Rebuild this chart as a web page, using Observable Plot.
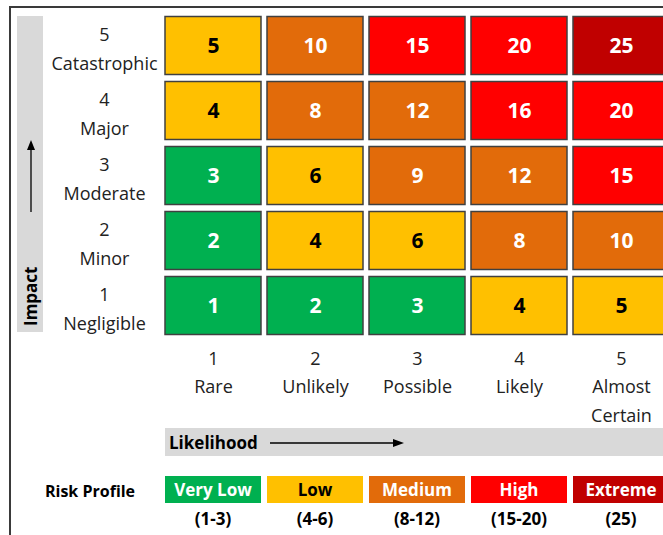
<!DOCTYPE html>
<html><head><meta charset="utf-8">
<script src="https://cdn.jsdelivr.net/npm/d3@7"></script>
<script src="https://cdn.jsdelivr.net/npm/@observablehq/plot@0.6"></script>
<style>
html,body{margin:0;padding:0;background:#fff;overflow:hidden}
#wrap{position:relative;width:663px;height:535px;overflow:hidden;font-family:"Open Sans",sans-serif;color:#1a1a1a}
#frame{position:absolute;left:9px;top:6px;width:700px;height:600px;border-top:2px solid #3a3a3a;border-left:2px solid #3a3a3a;box-sizing:border-box}
#wrap svg.plot{position:absolute;left:0;top:0}
.ov{position:absolute;box-sizing:border-box}
.band{background:#D9D9D9}
.lbox{display:flex;align-items:center;justify-content:center;font-weight:bold;font-size:17px}
.lrange{text-align:center;font-weight:bold;font-size:17px}
</style></head><body>
<div id="wrap"><div id="frame"></div></div>
<script>
// ---- data ----
const likelihood = [1, 2, 3, 4, 5];
const likelihoodNames = ["Rare", "Unlikely", "Possible", "Likely", "Almost\nCertain"];
const impact = [5, 4, 3, 2, 1];
const impactNames = ["Catastrophic", "Major", "Moderate", "Minor", "Negligible"];
// rows ordered by impact 5..1, columns by likelihood 1..5
const scoreRows = [
  [5, 10, 15, 20, 25],
  [4, 8, 12, 16, 20],
  [3, 6, 9, 12, 15],
  [2, 4, 6, 8, 10],
  [1, 2, 3, 4, 5]
];
const levels = ["Very Low", "Low", "Medium", "High", "Extreme"];
const levelRanges = ["(1-3)", "(4-6)", "(8-12)", "(15-20)", "(25)"];
const levelMax = [3, 6, 12, 20, 25];
const levelColors = ["#00B050", "#FFC000", "#E26B0A", "#FF0000", "#C00000"];
const levelText = ["#ffffff", "#000000", "#ffffff", "#ffffff", "#ffffff"];

const levelOf = s => levels[levelMax.findIndex(m => s <= m)];
const cells = [];
impact.forEach((im, r) => likelihood.forEach((lk, c) => {
  const score = scoreRows[r][c];
  cells.push({impact: im, likelihood: lk, score, level: levelOf(score)});
}));
const impactLabels = impact.map((im, i) => ({impact: im, label: `${im}\n${impactNames[i]}`}));
const likeLabels = likelihood.map((lk, i) => ({likelihood: lk, label: `${lk}\n${likelihoodNames[i]}`}));
const darkText = new Set(levels.filter((l, i) => levelText[i] === "#000000"));

const chart = Plot.plot({
  width: 663, height: 535,
  marginLeft: 162, marginRight: 0, marginTop: 12, marginBottom: 195,
  x: {type: "band", domain: likelihood, range: [162, 672], padding: 0, axis: null},
  y: {type: "band", domain: impact, range: [12, 339.5], padding: 0, axis: null},
  color: {type: "ordinal", domain: levels, range: levelColors},
  style: {fontFamily: "Open Sans", background: "transparent", overflow: "hidden"},
  marks: [
    Plot.cell(cells, {x: "likelihood", y: "impact", fill: "level", stroke: "#404040", strokeWidth: 1.5,
      insetLeft: 3, insetRight: 3, insetTop: 3.5, insetBottom: 3.5}),
    Plot.text(cells.filter(d => darkText.has(d.level)), {x: "likelihood", y: "impact", text: d => String(d.score),
      fill: "#000", fontSize: 21, fontWeight: "bold"}),
    Plot.text(cells.filter(d => !darkText.has(d.level)), {x: "likelihood", y: "impact", text: d => String(d.score),
      fill: "#fff", fontSize: 21, fontWeight: "bold"}),
    Plot.text(impactLabels, {y: "impact", text: "label", frameAnchor: "left", dx: -58, dy: 0,
      textAnchor: "middle", lineAnchor: "middle", lineHeight: 1.6, fontSize: 18, fill: "#222"}),
    Plot.text(likeLabels, {x: "likelihood", text: "label", frameAnchor: "bottom", dy: 4,
      textAnchor: "middle", lineAnchor: "top", lineHeight: 1.58, fontSize: 18, fill: "#222"})
  ]
});
const wrap = document.getElementById("wrap");
wrap.appendChild(chart);

const sx = chart.scale("x"), sy = chart.scale("y");
function div(cls, css, html) {
  const d = document.createElement("div");
  d.className = "ov " + cls;
  Object.assign(d.style, css);
  if (html) d.innerHTML = html;
  wrap.appendChild(d);
  return d;
}
// Impact band (vertical)
const bandTop = sy.apply(impact[0]) + 3;
const bandBot = sy.apply(impact[impact.length - 1]) + sy.bandwidth - 6;
div("band", {left: "17px", width: "26px", top: bandTop + "px", height: (bandBot - bandTop) + "px"},
  `<svg width="26" height="${bandBot - bandTop}" style="position:absolute;left:0;top:0;overflow:visible">
     <line x1="14" x2="14" y1="${140 - bandTop + 8}" y2="${212 - bandTop}" stroke="#000" stroke-width="1.3"/>
     <path d="M14,${140 - bandTop} L10,${150 - bandTop} L18,${150 - bandTop} Z" fill="#000"/>
     <text transform="translate(20,${326 - bandTop}) rotate(-90)" font-family="Open Sans" font-weight="bold" font-size="17" fill="#000">Impact</text>
   </svg>`);
// Likelihood band (horizontal)
const lx0 = sx.apply(likelihood[0]) + 3;
div("band", {left: lx0 + "px", width: (700 - lx0) + "px", top: "428px", height: "28px"},
  `<svg width="500" height="28" style="position:absolute;left:0;top:0">
     <text x="4" y="21" font-family="Open Sans" font-weight="bold" font-size="17" fill="#000">Likelihood</text>
     <line x1="105" x2="230" y1="15" y2="15" stroke="#000" stroke-width="1.3"/>
     <path d="M239,15 L228,11 L228,19 Z" fill="#000"/>
   </svg>`);
// Legend
div("", {left: "20px", width: "140px", top: "478px", height: "26px", textAlign: "center", fontWeight: "bold",
  fontSize: "16px", lineHeight: "26px", color: "#000"}, "Risk Profile");
levels.forEach((lv, i) => {
  const x0 = sx.apply(likelihood[i]) + 3, w = sx.bandwidth - 6;
  div("lbox", {left: x0 + "px", width: w + "px", top: "476px", height: "27px", background: levelColors[i],
    color: levelText[i]}, lv);
  div("lrange", {left: x0 + "px", width: w + "px", top: "506px", height: "26px", lineHeight: "26px", color: "#000"},
    levelRanges[i]);
});
</script>
</body></html>
